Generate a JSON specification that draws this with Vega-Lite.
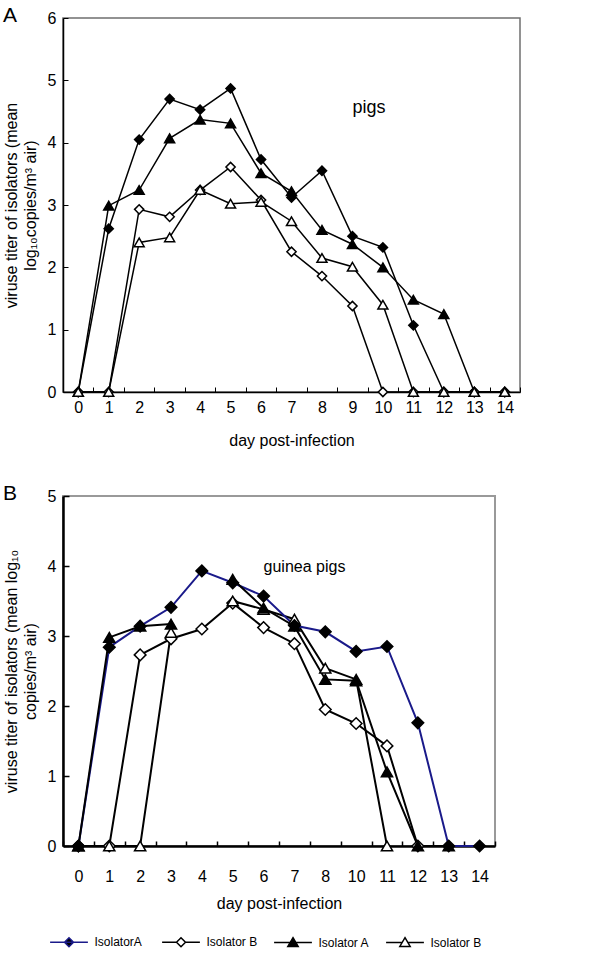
{
  "$schema": "https://vega.github.io/schema/vega-lite/v6.json",
  "background": "white",
  "padding": {"left": 2, "top": 4, "right": 0, "bottom": 0},
  "spacing": 33,
  "config": {
    "font": "Liberation Sans",
    "view": {"stroke": "#6f6f6f", "strokeWidth": 1.5},
    "axis": {"grid": false, "labelColor": "black", "titleColor": "black", "domainColor": "black", "tickColor": "black", "labelFontSize": 16, "titleFontSize": 16, "titleFontWeight": "normal", "labelFont": "Liberation Sans", "titleFont": "Liberation Sans"},
    "title": {"fontSize": 21, "fontWeight": "normal", "anchor": "start", "frame": "bounds", "color": "black", "font": "Liberation Sans"},
    "legend": {"orient": "bottom", "direction": "horizontal", "title": null, "labelFontSize": 12, "labelFont": "Liberation Sans", "labelColor": "black", "symbolSize": 81, "symbolStrokeWidth": 1.5, "symbolOpacity": 1, "labelOffset": 19.5, "columnPadding": 13, "gridAlign": "all", "offset": 24}
  },
  "datasets": {
    "pigs": [
      {"series": "IsolatorA", "day": 0, "value": 0}, {"series": "IsolatorA", "day": 1, "value": 2.62}, {"series": "IsolatorA", "day": 2, "value": 4.05}, {"series": "IsolatorA", "day": 3, "value": 4.70}, {"series": "IsolatorA", "day": 4, "value": 4.53}, {"series": "IsolatorA", "day": 5, "value": 4.87}, {"series": "IsolatorA", "day": 6, "value": 3.73}, {"series": "IsolatorA", "day": 7, "value": 3.12}, {"series": "IsolatorA", "day": 8, "value": 3.55}, {"series": "IsolatorA", "day": 9, "value": 2.50}, {"series": "IsolatorA", "day": 10, "value": 2.32}, {"series": "IsolatorA", "day": 11, "value": 1.07}, {"series": "IsolatorA", "day": 12, "value": 0}, {"series": "IsolatorA", "day": 13, "value": 0}, {"series": "IsolatorA", "day": 14, "value": 0},
      {"series": "Isolator B", "day": 0, "value": 0}, {"series": "Isolator B", "day": 1, "value": 0}, {"series": "Isolator B", "day": 2, "value": 2.93}, {"series": "Isolator B", "day": 3, "value": 2.81}, {"series": "Isolator B", "day": 4, "value": 3.24}, {"series": "Isolator B", "day": 5, "value": 3.61}, {"series": "Isolator B", "day": 6, "value": 3.08}, {"series": "Isolator B", "day": 7, "value": 2.25}, {"series": "Isolator B", "day": 8, "value": 1.86}, {"series": "Isolator B", "day": 9, "value": 1.38}, {"series": "Isolator B", "day": 10, "value": 0}, {"series": "Isolator B", "day": 11, "value": 0}, {"series": "Isolator B", "day": 12, "value": 0}, {"series": "Isolator B", "day": 13, "value": 0}, {"series": "Isolator B", "day": 14, "value": 0},
      {"series": "Isolator A", "day": 0, "value": 0}, {"series": "Isolator A", "day": 1, "value": 2.99}, {"series": "Isolator A", "day": 2, "value": 3.24}, {"series": "Isolator A", "day": 3, "value": 4.07}, {"series": "Isolator A", "day": 4, "value": 4.37}, {"series": "Isolator A", "day": 5, "value": 4.31}, {"series": "Isolator A", "day": 6, "value": 3.51}, {"series": "Isolator A", "day": 7, "value": 3.22}, {"series": "Isolator A", "day": 8, "value": 2.60}, {"series": "Isolator A", "day": 9, "value": 2.37}, {"series": "Isolator A", "day": 10, "value": 2.00}, {"series": "Isolator A", "day": 11, "value": 1.48}, {"series": "Isolator A", "day": 12, "value": 1.25}, {"series": "Isolator A", "day": 13, "value": 0}, {"series": "Isolator A", "day": 14, "value": 0},
      {"series": "Isolator B ", "day": 0, "value": 0}, {"series": "Isolator B ", "day": 1, "value": 0}, {"series": "Isolator B ", "day": 2, "value": 2.40}, {"series": "Isolator B ", "day": 3, "value": 2.48}, {"series": "Isolator B ", "day": 4, "value": 3.24}, {"series": "Isolator B ", "day": 5, "value": 3.02}, {"series": "Isolator B ", "day": 6, "value": 3.05}, {"series": "Isolator B ", "day": 7, "value": 2.74}, {"series": "Isolator B ", "day": 8, "value": 2.15}, {"series": "Isolator B ", "day": 9, "value": 2.01}, {"series": "Isolator B ", "day": 10, "value": 1.40}, {"series": "Isolator B ", "day": 11, "value": 0}, {"series": "Isolator B ", "day": 12, "value": 0}, {"series": "Isolator B ", "day": 13, "value": 0}, {"series": "Isolator B ", "day": 14, "value": 0}
    ],
    "guinea": [
      {"series": "Isolator B", "day": 0, "value": 0}, {"series": "Isolator B", "day": 1, "value": 0}, {"series": "Isolator B", "day": 2, "value": 2.73}, {"series": "Isolator B", "day": 3, "value": 2.96}, {"series": "Isolator B", "day": 4, "value": 3.10}, {"series": "Isolator B", "day": 5, "value": 3.47}, {"series": "Isolator B", "day": 6, "value": 3.12}, {"series": "Isolator B", "day": 7, "value": 2.89}, {"series": "Isolator B", "day": 8, "value": 1.95}, {"series": "Isolator B", "day": 10, "value": 1.75}, {"series": "Isolator B", "day": 11, "value": 1.43}, {"series": "Isolator B", "day": 12, "value": 0},
      {"series": "Isolator B ", "day": 0, "value": 0}, {"series": "Isolator B ", "day": 1, "value": 0}, {"series": "Isolator B ", "day": 2, "value": 0}, {"series": "Isolator B ", "day": 3, "value": 3.05}, {"series": "Isolator B ", "day": 4, "value": null}, {"series": "Isolator B ", "day": 5, "value": 3.50}, {"series": "Isolator B ", "day": 6, "value": 3.38}, {"series": "Isolator B ", "day": 7, "value": 3.24}, {"series": "Isolator B ", "day": 8, "value": 2.54}, {"series": "Isolator B ", "day": 10, "value": 2.38}, {"series": "Isolator B ", "day": 11, "value": 0},
      {"series": "IsolatorA", "day": 0, "value": 0}, {"series": "IsolatorA", "day": 1, "value": 2.84}, {"series": "IsolatorA", "day": 2, "value": 3.14}, {"series": "IsolatorA", "day": 3, "value": 3.41}, {"series": "IsolatorA", "day": 4, "value": 3.93}, {"series": "IsolatorA", "day": 5, "value": 3.76}, {"series": "IsolatorA", "day": 6, "value": 3.57}, {"series": "IsolatorA", "day": 7, "value": 3.15}, {"series": "IsolatorA", "day": 8, "value": 3.06}, {"series": "IsolatorA", "day": 10, "value": 2.78}, {"series": "IsolatorA", "day": 11, "value": 2.85}, {"series": "IsolatorA", "day": 12, "value": 1.76}, {"series": "IsolatorA", "day": 13, "value": 0}, {"series": "IsolatorA", "day": 14, "value": 0},
      {"series": "Isolator A", "day": 0, "value": 0}, {"series": "Isolator A", "day": 1, "value": 2.98}, {"series": "Isolator A", "day": 2, "value": 3.14}, {"series": "Isolator A", "day": 3, "value": 3.17}, {"series": "Isolator A", "day": 4, "value": null}, {"series": "Isolator A", "day": 5, "value": 3.81}, {"series": "Isolator A", "day": 6, "value": 3.40}, {"series": "Isolator A", "day": 7, "value": 3.14}, {"series": "Isolator A", "day": 8, "value": 2.38}, {"series": "Isolator A", "day": 10, "value": 2.36}, {"series": "Isolator A", "day": 11, "value": 1.06}, {"series": "Isolator A", "day": 12, "value": 0}, {"series": "Isolator A", "day": 13, "value": 0}
    ]
  },
  "vconcat": [
    {
      "title": {"text": "A", "offset": -16},
      "width": 457,
      "height": 374,
      "data": {"name": "pigs"},
      "encoding": {
        "x": {"field": "day", "type": "ordinal", "scale": {"type": "band", "domain": [0,1,2,3,4,5,6,7,8,9,10,11,12,13,14], "paddingInner": 0, "paddingOuter": 0},
          "axis": {"title": "day post-infection", "labelAngle": 0, "tickBand": "extent", "tickSize": -5, "tickWidth": 1, "domainWidth": 1.5, "labelPadding": 12, "titlePadding": 17}},
        "y": {"field": "value", "type": "quantitative", "scale": {"domain": [0, 6], "nice": false},
          "axis": {"title": ["viruse titer of isolators (mean", "log₁₀copies/m³ air)"], "values": [0,1,2,3,4,5,6], "tickSize": -5, "tickWidth": 1, "domainWidth": 1.5, "labelPadding": 12, "titlePadding": 9, "titleLineHeight": 19}}
      },
      "layer": [
        {"mark": {"type": "line", "color": "black", "strokeWidth": 1.5, "invalid": "break-paths-show-domains"},
         "encoding": {"detail": {"field": "series"}}},
        {"mark": {"type": "point", "stroke": "black", "strokeWidth": 1.5, "opacity": 1},
         "encoding": {
           "shape": {"condition": {"test": "datum.series === 'IsolatorA' || datum.series === 'Isolator B'", "value": "diamond"}, "value": "triangle-up"},
           "size": {"condition": {"test": "datum.series === 'IsolatorA' || datum.series === 'Isolator B'", "value": 85}, "value": 100},
           "fill": {"condition": {"test": "datum.series === 'IsolatorA' || datum.series === 'Isolator A'", "value": "black"}, "value": "white"}
         }},
        {"data": {"values": [{"label": "pigs", "day": 9, "value": 4.47}]},
         "mark": {"type": "text", "align": "left", "baseline": "alphabetic", "fontSize": 18, "color": "black"},
         "encoding": {"text": {"field": "label"}}}
      ]
    },
    {
      "title": {"text": "B", "offset": -16},
      "width": 432,
      "height": 350,
      "view": {"stroke": "#999999", "strokeWidth": 2},
      "data": {"name": "guinea"},
      "encoding": {
        "x": {"field": "day", "type": "ordinal", "scale": {"type": "band", "domain": [0,1,2,3,4,5,6,7,8,10,11,12,13,14], "paddingInner": 0, "paddingOuter": 0},
          "axis": {"title": "day post-infection", "labelAngle": 0, "tickBand": "extent", "tickSize": -5, "tickWidth": 1.5, "domainWidth": 2.5, "labelPadding": 27, "titlePadding": 11}},
        "y": {"field": "value", "type": "quantitative", "scale": {"domain": [0, 5], "nice": false},
          "axis": {"title": ["viruse titer of isolators (mean log₁₀", "copies/m³ air)"], "values": [0,1,2,3,4,5], "tickSize": -6, "tickWidth": 1.5, "domainWidth": 2.5, "labelPadding": 13, "titlePadding": 9, "titleLineHeight": 19}}
      },
      "layer": [
        {"mark": {"type": "line", "strokeWidth": 2, "invalid": "break-paths-show-domains"},
         "encoding": {"detail": {"field": "series"},
           "stroke": {"condition": {"test": "datum.series === 'IsolatorA'", "value": "#1a1a8a"}, "value": "black"}}},
        {"mark": {"type": "point", "stroke": "black", "strokeWidth": 1.5, "opacity": 1},
         "encoding": {
           "shape": {"condition": {"test": "datum.series === 'IsolatorA' || datum.series === 'Isolator B'", "value": "diamond"}, "value": "triangle-up"},
           "size": {"condition": {"test": "datum.series === 'IsolatorA' || datum.series === 'Isolator B'", "value": 135}, "value": 125},
           "fill": {"condition": {"test": "datum.series === 'IsolatorA' || datum.series === 'Isolator A'", "value": "black"}, "value": "white"}
         }},
        {"mark": {"type": "point", "opacity": 0, "size": 81, "strokeWidth": 1.5},
         "encoding": {
           "shape": {"field": "series", "type": "nominal", "scale": {"domain": ["IsolatorA", "Isolator B", "Isolator A", "Isolator B "], "range": ["M-4.2,0H4.2M0,-1L1,0L0,1L-1,0Z", "M-4.2,0H-1M1,0H4.2M0,-1L1,0L0,1L-1,0Z", "M-4.2,0H4.2M0,-1.1L1.15,0.85L-1.15,0.85Z", "M-4.2,0H-0.67M0.67,0H4.2M0,-1.1L1.15,0.85L-1.15,0.85Z"]}},
           "fill": {"field": "series", "type": "nominal", "scale": {"domain": ["IsolatorA", "Isolator B", "Isolator A", "Isolator B "], "range": ["black", "white", "black", "white"]}},
           "stroke": {"field": "series", "type": "nominal", "scale": {"domain": ["IsolatorA", "Isolator B", "Isolator A", "Isolator B "], "range": ["#1a1a8a", "black", "black", "black"]}}
         }},
        {"data": {"values": [{"label": "guinea pigs", "day": 6, "value": 3.91}]},
         "mark": {"type": "text", "align": "left", "baseline": "alphabetic", "fontSize": 16, "color": "black"},
         "encoding": {"text": {"field": "label"}}}
      ]
    }
  ]
}
